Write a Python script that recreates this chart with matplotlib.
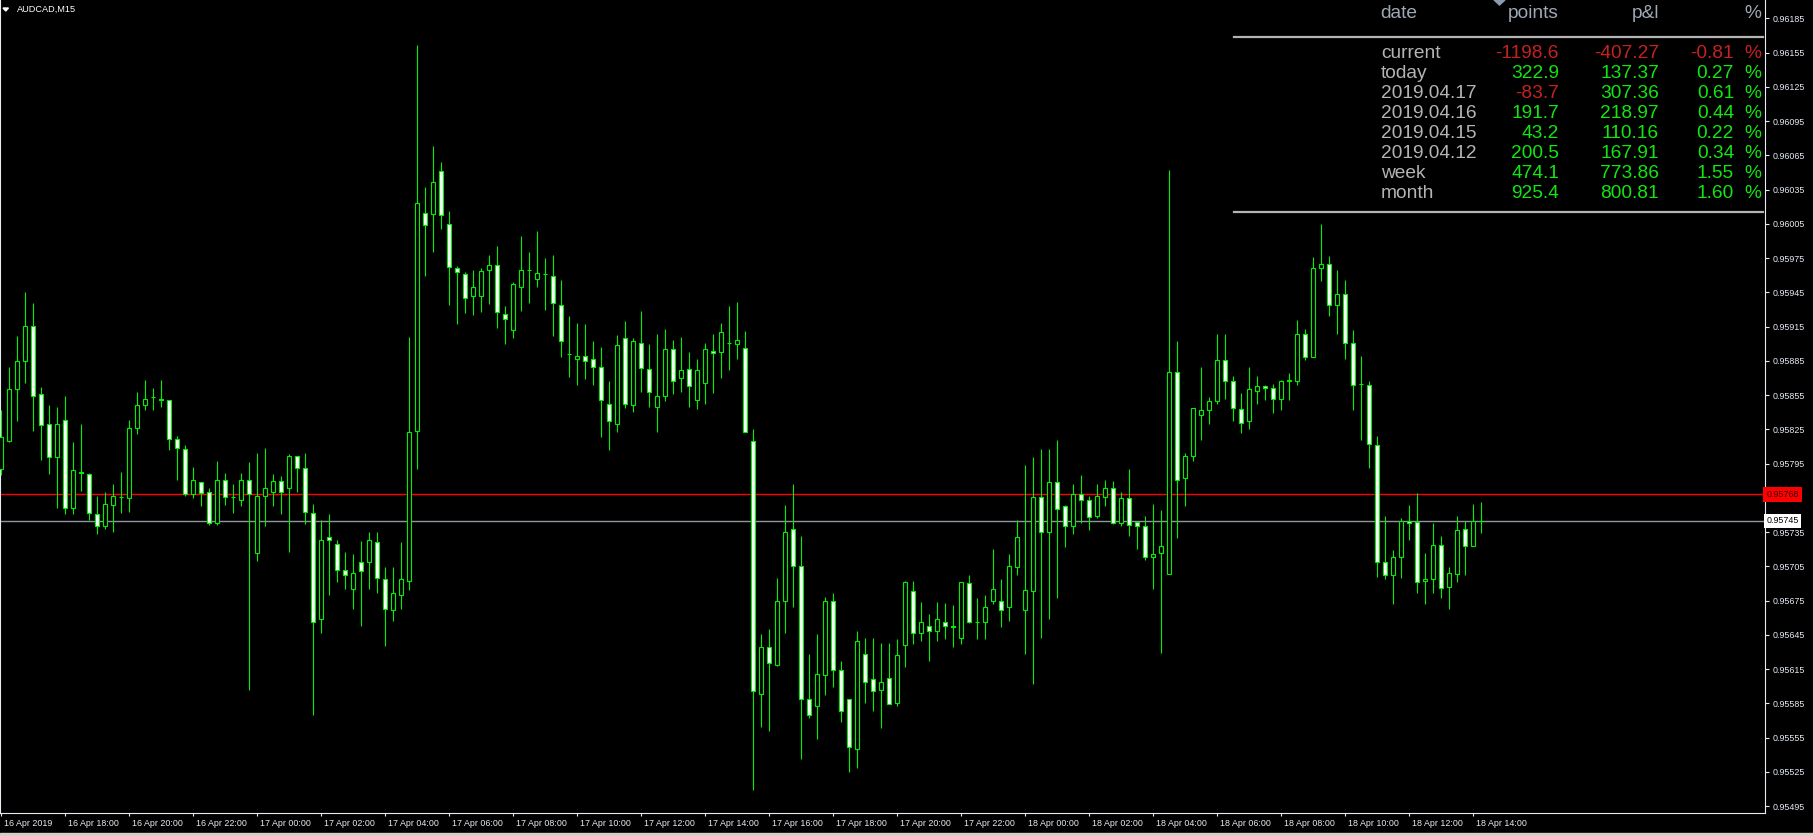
import numpy as np
import matplotlib
matplotlib.use('Agg')
import matplotlib.pyplot as plt
import matplotlib.transforms as mtransforms
from matplotlib.patches import Polygon, Rectangle
from matplotlib.lines import Line2D

plt.rcParams['font.family'] = ['Liberation Sans', 'DejaVu Sans']

W, H = 1813, 836

# AUDCAD M15 bars, 16 Apr 2019 16:00 .. 18 Apr 14:15, prices in points (1e-5)
opens = [95790, 95815, 95860, 95885, 95916, 95856, 95830, 95801, 95833, 95756,
         95788, 95786, 95751, 95740, 95759, 95766, 95765, 95826, 95846, 95853,
         95852, 95851, 95817, 95808, 95768, 95779, 95770, 95743, 95781, 95766,
         95763, 95781, 95717, 95767, 95770, 95780, 95774, 95802, 95791, 95752,
         95659, 95731, 95725, 95702, 95685, 95709, 95709, 95726, 95694, 95667,
         95680, 95692, 95824, 96015, 96014, 96051, 96005, 95966, 95961, 95942,
         95942, 95965, 95969, 95926, 95912, 95950, 95965, 95957, 95961, 95959,
         95934, 95891, 95887, 95889, 95887, 95880, 95847, 95830, 95905, 95846,
         95901, 95878, 95845, 95854, 95895, 95870, 95878, 95851, 95866, 95894,
         95893, 95901, 95900, 95896, 95815, 95593, 95634, 95619, 95675, 95738,
         95705, 95589, 95583, 95610, 95675, 95614, 95589, 95545, 95628, 95606,
         95597, 95607, 95585, 95636, 95683, 95647, 95653, 95648, 95656, 95653,
         95642, 95690, 95656, 95656, 95675, 95675, 95669, 95704, 95667, 95683,
         95766, 95735, 95779, 95758, 95740, 95768, 95763, 95749, 95766, 95774,
         95743, 95765, 95744, 95740, 95713, 95717, 95698, 95875, 95782, 95802,
         95838, 95842, 95850, 95886, 95867, 95843, 95832, 95859, 95863, 95861,
         95852, 95867, 95867, 95909, 95888, 95966, 95970, 95934, 95944, 95901,
         95865, 95864, 95811, 95709, 95697, 95713, 95745, 95744, 95692, 95694,
         95724, 95687, 95698, 95738, 95723, 95745]
highs = [95842, 95880, 95907, 95945, 95936, 95862, 95846, 95845, 95854, 95814,
         95830, 95787, 95767, 95770, 95777, 95788, 95833, 95858, 95868, 95861,
         95868, 95851, 95819, 95811, 95792, 95779, 95774, 95797, 95787, 95777,
         95787, 95796, 95804, 95809, 95786, 95784, 95803, 95802, 95804, 95760,
         95746, 95751, 95728, 95718, 95716, 95727, 95735, 95735, 95704, 95704,
         95726, 95906, 96162, 96037, 96073, 96059, 96016, 95968, 95963, 95965,
         95966, 95978, 95986, 95933, 95954, 95994, 95980, 95999, 95975, 95978,
         95956, 95924, 95918, 95917, 95902, 95897, 95867, 95908, 95920, 95905,
         95929, 95900, 95909, 95913, 95903, 95906, 95893, 95887, 95901, 95909,
         95918, 95933, 95937, 95911, 95825, 95646, 95650, 95695, 95759, 95777,
         95732, 95628, 95646, 95678, 95682, 95622, 95589, 95648, 95642, 95642,
         95638, 95638, 95641, 95692, 95692, 95674, 95663, 95674, 95673, 95671,
         95691, 95697, 95677, 95680, 95720, 95694, 95716, 95746, 95794, 95801,
         95808, 95808, 95816, 95759, 95777, 95785, 95767, 95777, 95781, 95780,
         95770, 95790, 95745, 95749, 95760, 95754, 96052, 95902, 95804, 95844,
         95880, 95853, 95909, 95909, 95872, 95857, 95880, 95872, 95864, 95865,
         95868, 95874, 95921, 95913, 95976, 96005, 95977, 95965, 95956, 95912,
         95889, 95867, 95819, 95749, 95719, 95747, 95759, 95769, 95717, 95743,
         95732, 95704, 95749, 95745, 95760, 95761]
lows = [95785, 95814, 95832, 95866, 95824, 95798, 95786, 95756, 95751, 95751,
        95771, 95746, 95733, 95738, 95735, 95752, 95753, 95821, 95842, 95842,
        95845, 95807, 95781, 95767, 95765, 95758, 95741, 95741, 95759, 95752,
        95758, 95597, 95710, 95740, 95758, 95751, 95718, 95770, 95742, 95575,
        95647, 95680, 95691, 95685, 95668, 95653, 95685, 95682, 95635, 95657,
        95668, 95684, 95790, 95959, 95980, 96001, 95934, 95917, 95927, 95925,
        95928, 95935, 95914, 95900, 95905, 95929, 95936, 95950, 95930, 95907,
        95888, 95871, 95864, 95869, 95864, 95818, 95807, 95823, 95844, 95840,
        95858, 95845, 95823, 95850, 95856, 95858, 95845, 95843, 95847, 95857,
        95870, 95877, 95887, 95823, 95509, 95564, 95561, 95618, 95647, 95669,
        95536, 95572, 95554, 95592, 95599, 95569, 95525, 95528, 95585, 95578,
        95563, 95584, 95583, 95617, 95637, 95640, 95622, 95640, 95641, 95634,
        95637, 95655, 95641, 95641, 95672, 95652, 95657, 95697, 95628, 95602,
        95642, 95659, 95677, 95722, 95733, 95743, 95737, 95747, 95758, 95742,
        95740, 95732, 95720, 95711, 95685, 95629, 95698, 95730, 95758, 95797,
        95816, 95830, 95847, 95852, 95832, 95822, 95825, 95847, 95851, 95839,
        95842, 95851, 95864, 95886, 95888, 95955, 95924, 95909, 95887, 95842,
        95816, 95791, 95696, 95694, 95672, 95695, 95728, 95682, 95672, 95682,
        95677, 95668, 95691, 95697, 95723, 95734]
closes = [95818, 95860, 95885, 95916, 95854, 95829, 95801, 95830, 95756, 95789,
          95787, 95752, 95740, 95760, 95767, 95766, 95826, 95846, 95852, 95853,
          95851, 95817, 95809, 95768, 95781, 95769, 95743, 95781, 95766, 95766,
          95781, 95768, 95767, 95774, 95780, 95770, 95802, 95791, 95753, 95656,
          95728, 95728, 95702, 95697, 95699, 95701, 95728, 95695, 95668, 95682,
          95694, 95823, 96023, 96004, 96042, 96013, 95967, 95963, 95940, 95950,
          95964, 95969, 95928, 95922, 95952, 95965, 95965, 95962, 95961, 95936,
          95902, 95891, 95889, 95885, 95880, 95851, 95832, 95899, 95847, 95902,
          95879, 95858, 95854, 95895, 95867, 95877, 95863, 95877, 95895, 95892,
          95910, 95901, 95903, 95823, 95596, 95634, 95620, 95675, 95735, 95705,
          95589, 95575, 95611, 95675, 95614, 95578, 95547, 95640, 95604, 95596,
          95604, 95584, 95627, 95691, 95647, 95656, 95648, 95659, 95653, 95652,
          95691, 95656, 95656, 95669, 95685, 95667, 95705, 95731, 95684, 95766,
          95735, 95779, 95755, 95740, 95768, 95763, 95748, 95767, 95774, 95743,
          95765, 95741, 95740, 95713, 95716, 95723, 95875, 95781, 95802, 95844,
          95842, 95850, 95886, 95867, 95844, 95831, 95860, 95863, 95861, 95852,
          95867, 95868, 95909, 95888, 95966, 95970, 95934, 95944, 95901, 95864,
          95865, 95812, 95709, 95697, 95713, 95745, 95743, 95691, 95694, 95724,
          95686, 95699, 95737, 95723, 95745, 95745]

time_labels = ['16 Apr 2019', '16 Apr 18:00', '16 Apr 20:00', '16 Apr 22:00',
               '17 Apr 00:00', '17 Apr 02:00', '17 Apr 04:00', '17 Apr 06:00',
               '17 Apr 08:00', '17 Apr 10:00', '17 Apr 12:00', '17 Apr 14:00',
               '17 Apr 16:00', '17 Apr 18:00', '17 Apr 20:00', '17 Apr 22:00',
               '18 Apr 00:00', '18 Apr 02:00', '18 Apr 04:00', '18 Apr 06:00',
               '18 Apr 08:00', '18 Apr 10:00', '18 Apr 12:00', '18 Apr 14:00']
bars_per_label = 8

ask_price = 0.95768
bid_price = 0.95745

# p&l panel
row_names = ['current', 'today', '2019.04.17', '2019.04.16', '2019.04.15',
             '2019.04.12', 'week', 'month']
row_points = [-1198.6, 322.9, -83.7, 191.7, 43.2, 200.5, 474.1, 925.4]
row_pnl = [-407.27, 137.37, 307.36, 218.97, 110.16, 167.91, 773.86, 800.81]
row_pct = [-0.81, 0.27, 0.61, 0.44, 0.22, 0.34, 1.55, 1.60]

LIME = '#00f000'
POS = '#12e612'
NEG = '#c42222'
GREY = '#b4b4b4'
HEAD = '#9ea8b4'
AXC = '#e6ecf4'

o = np.array(opens) / 1e5
h = np.array(highs) / 1e5
l = np.array(lows) / 1e5
c = np.array(closes) / 1e5
x = np.arange(len(o))


def fx(px):
    return px / W


def fy(py):
    return 1 - py / H


fig = plt.figure(figsize=(W / 100, H / 100), dpi=100, facecolor='black')
ax = fig.add_axes([0, 23 / H, 1765 / W, 813 / H])
ax.set_facecolor('black')

ax.axhline(ask_price, color='#ff0000', lw=1.0, zorder=1)
ax.axhline(bid_price, color='#8e969e', lw=1.0, zorder=1)

ax.vlines(x, l, h, color=LIME, lw=0.8, zorder=2)
bull = c >= o
lo = np.minimum(o, c)
hh = np.maximum(np.abs(c - o), 1e-7)
ax.bar(x[bull], hh[bull], bottom=lo[bull], width=0.5, color='black',
       edgecolor=LIME, linewidth=0.8, zorder=3)
ax.bar(x[~bull], hh[~bull], bottom=lo[~bull], width=0.5, color='white',
       edgecolor=LIME, linewidth=0.8, zorder=3)

ax.set_xlim(-0.166, 220.46)
ax.set_ylim(0.954889, 0.962012)

# price scale; the level under the ask tag is hidden by it
yt = np.round(0.95495 + 0.0003 * np.arange(24), 5)
ax.yaxis.tick_right()
ax.set_yticks(yt)
ax.set_yticklabels(['' if abs(v - ask_price) < 0.0001 else '%.5f' % v for v in yt])
ax.tick_params(axis='y', colors=AXC, length=3, width=0.8, pad=2.2,
               labelsize=6.4)

# time scale
xt = np.arange(len(time_labels)) * bars_per_label
ax.set_xticks(xt)
ax.set_xticklabels(time_labels, ha='left')
ax.tick_params(axis='x', colors=AXC, length=2.5, width=0.8, pad=1.5,
               labelsize=6.4)
shift = mtransforms.ScaledTranslation(3 / 100, 0, fig.dpi_scale_trans)
for lab in ax.get_xticklabels():
    lab.set_transform(lab.get_transform() + shift)

for s in ['right', 'bottom', 'left']:
    ax.spines[s].set_color(AXC)
    ax.spines[s].set_linewidth(0.8)
ax.spines['top'].set_visible(False)

# price tags on the scale
tr = mtransforms.blended_transform_factory(ax.transAxes, ax.transData)
ax.text(1.0008, ask_price, '%.5f' % ask_price, transform=tr, fontsize=6.4,
        color='#300000', va='center', ha='left', clip_on=False, zorder=10,
        bbox=dict(boxstyle='square,pad=0.35', fc='#ff0000', ec='none'))
ax.text(1.0008, bid_price, '%.5f' % bid_price, transform=tr, fontsize=6.4,
        color='black', va='center', ha='left', clip_on=False, zorder=10,
        bbox=dict(boxstyle='square,pad=0.3', fc='white', ec='none'))

# symbol caption
fig.patches.append(Polygon([[fx(3), fy(8)], [fx(8.5), fy(8)], [fx(5.75), fy(11)]],
                           closed=True, transform=fig.transFigure,
                           color='white'))
fig.text(fx(17), fy(9), 'AUDCAD,M15', color='white', fontsize=6.6,
         va='center', ha='left')

# chart shift marker
fig.patches.append(Polygon([[fx(1494), fy(0)], [fx(1505), fy(0)], [fx(1499.5), fy(5)]],
                           closed=True, transform=fig.transFigure,
                           color='#8c9cb0'))

# p&l panel
fs = 13.8
fig.text(fx(1380), fy(13), 'date', color=HEAD, fontsize=fs, va='center', ha='left')
fig.text(fx(1559), fy(13), 'points', color=HEAD, fontsize=fs, va='center', ha='right')
fig.text(fx(1659), fy(13), 'p&l', color=HEAD, fontsize=fs, va='center', ha='right')
fig.text(fx(1761), fy(13), '%', color=HEAD, fontsize=fs, va='center', ha='right')
for yy in [37, 212]:
    fig.lines.append(Line2D([fx(1234), fx(1763)], [fy(yy), fy(yy)],
                            transform=fig.transFigure, color=GREY, lw=1.6))

for k, name in enumerate(row_names):
    yy = fy(53.5 + 20 * k)
    fig.text(fx(1381), yy, name, color=GREY, fontsize=fs, va='center', ha='left')
    col = POS if row_points[k] >= 0 else NEG
    fig.text(fx(1559), yy, '%.1f' % row_points[k], color=col, fontsize=fs,
             va='center', ha='right')
    col = POS if row_pnl[k] >= 0 else NEG
    fig.text(fx(1659), yy, '%.2f' % row_pnl[k], color=col, fontsize=fs,
             va='center', ha='right')
    col = POS if row_pct[k] >= 0 else NEG
    fig.text(fx(1734), yy, '%.2f' % row_pct[k], color=col, fontsize=fs,
             va='center', ha='right')
    fig.text(fx(1761), yy, '%', color=col, fontsize=fs, va='center', ha='right')

# window edge at the bottom
fig.patches.append(Rectangle((0, 0), 1, 3 / H, transform=fig.transFigure,
                             color='#d4d0c8'))

fig.savefig('out.png', dpi=100, facecolor='black')
